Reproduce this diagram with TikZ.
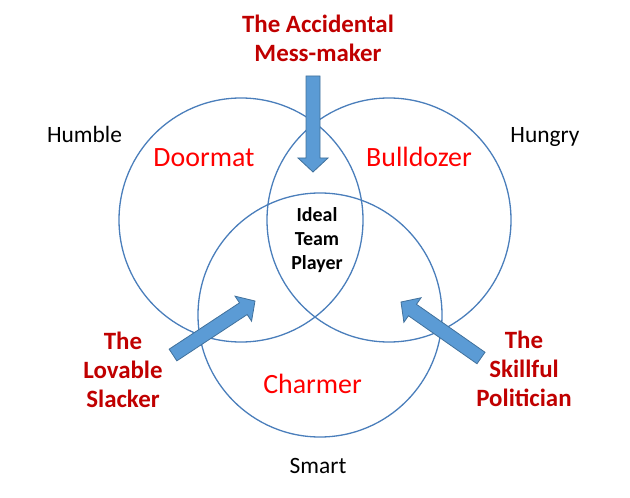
\documentclass[tikz,border=0pt]{standalone}
\usepackage{fontspec}
\setmainfont{Carlito}
\usetikzlibrary{calc}
\definecolor{circ}{HTML}{4A7EBB}
\definecolor{arrfill}{HTML}{5B9BD5}
\definecolor{arredge}{HTML}{41719C}
\definecolor{darkred}{HTML}{C00000}
\definecolor{brightred}{HTML}{FF0000}
\tikzset{
  venn/.style={draw=circ, line width=1.3bp, circle, minimum size=244bp, inner sep=0pt},
  trait/.style={font=\fontsize{23.5}{28}\selectfont, text=black, anchor=base, inner sep=0pt},
  region/.style={font=\fontsize{28}{32}\selectfont, text=brightred, anchor=base, inner sep=0pt},
  persona/.style={font=\bfseries\fontsize{25}{29}\selectfont, text=darkred, align=center, inner sep=0pt},
  ideal/.style={font=\bfseries\fontsize{20}{24}\selectfont, text=black, align=center, inner sep=0pt},
  blockarrow/.style={fill=arrfill, draw=arredge, line width=0.8bp, line join=miter}
}
\newcommand{\blockarr}[2]{%
  \coordinate (h#1) at ($(#2)!14bp!(#1)$);
  \draw[blockarrow] ($(#1)!7bp!90:(#2)$) -- ($(h#1)!7bp!90:(#2)$) -- ($(h#1)!15bp!90:(#2)$) -- (#2)
    -- ($(h#1)!15bp!-90:(#2)$) -- ($(h#1)!7bp!-90:(#2)$) -- ($(#1)!7bp!-90:(#2)$) -- cycle;}
\begin{document}
\begin{tikzpicture}[x=1bp,y=-1bp]
\useasboundingbox (0,0) rectangle (630,498);
\node[venn] (humblec) at (241,220) {};
\node[venn] (hungryc) at (389,220) {};
\node[venn] (smartc) at (320,315) {};

\node[trait] (humble) at (84.5,143) {Humble};
\node[trait] (hungry) at (545,143) {Hungry};
\node[trait] (smart) at (318,473) {Smart};

\node[region] (doormat) at (204,167) {Doormat};
\node[region] (bulldozer) at (419,167) {Bulldozer};
\node[region] (charmer) at (312.5,393) {Charmer};

\node[ideal] (idealtp) at (317,240) {Ideal\\Team\\Player};

\node[persona] (mess) at (318,38) {The Accidental\\Mess-maker};
\node[persona] (slacker) at (123,370) {The\\Lovable\\Slacker};
\node[persona] (politician) at (524,369) {The\\Skillful\\Politician};

\coordinate (t1) at (313,76);  \coordinate (p1) at (313,172);
\coordinate (t2) at (173,355); \coordinate (p2) at (255,301);
\coordinate (t3) at (481,358); \coordinate (p3) at (401,302);
\blockarr{t1}{p1}
\blockarr{t2}{p2}
\blockarr{t3}{p3}
\end{tikzpicture}
\end{document}
